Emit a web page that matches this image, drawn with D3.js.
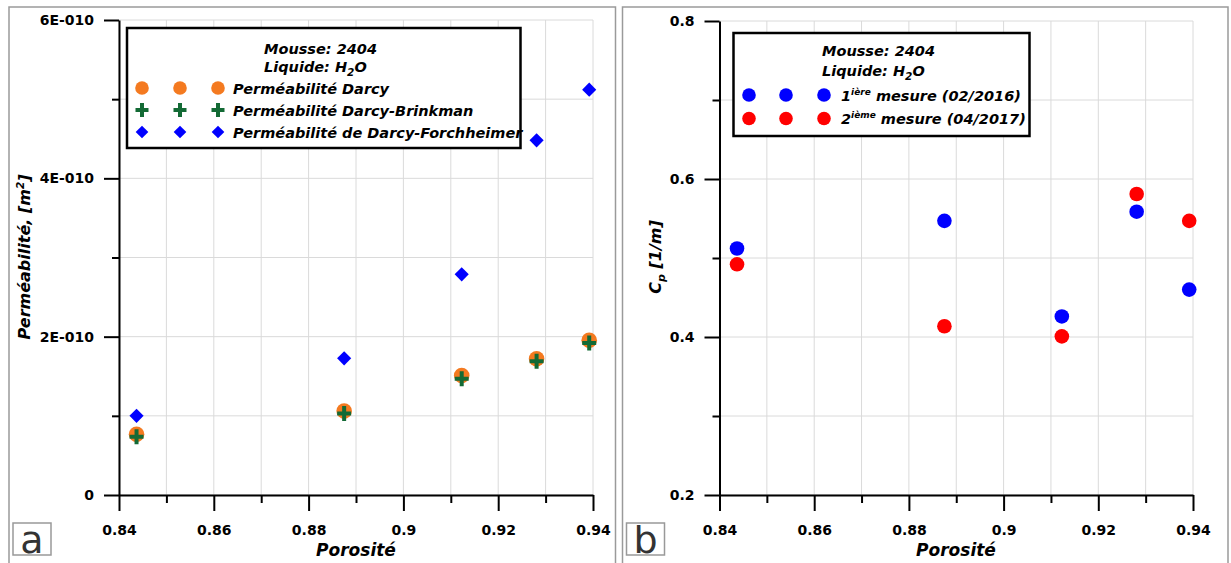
<!DOCTYPE html>
<html><head><meta charset="utf-8">
<script src="https://cdn.jsdelivr.net/npm/d3@7"></script>
<style>body{margin:0;background:#fff} svg{display:block}</style>
</head><body>
<svg id="c" width="1231" height="563"></svg>
<script>
// ---------------- data ----------------
const porosity = [0.8437, 0.8875, 0.9123, 0.9281, 0.9392];
const permDarcy = [0.766e-10, 1.06e-10, 1.51e-10, 1.72e-10, 1.955e-10];
const permBrinkman = [0.736e-10, 1.03e-10, 1.47e-10, 1.69e-10, 1.92e-10];
const permForchheimer = [1.00e-10, 1.726e-10, 2.787e-10, 4.48e-10, 5.12e-10];
const cp2016 = [0.512, 0.547, 0.426, 0.5586, 0.460];
const cp2017 = [0.492, 0.4136, 0.4008, 0.581, 0.547];

const xMajorTicks = [0.84, 0.86, 0.88, 0.90, 0.92, 0.94];
const xMinorTicks = [0.85, 0.87, 0.89, 0.91, 0.93];
const xTickLabels = ["0.84", "0.86", "0.88", "0.9", "0.92", "0.94"];
const yLeftMajor = [0, 2e-10, 4e-10, 6e-10];
const yLeftMinor = [1e-10, 3e-10, 5e-10];
const yLeftLabels = ["0", "2E-010", "4E-010", "6E-010"];
const yRightMajor = [0.2, 0.4, 0.6, 0.8];
const yRightMinor = [0.3, 0.5, 0.7];
const yRightLabels = ["0.2", "0.4", "0.6", "0.8"];

const legendLeftTitle = ["Mousse: 2404", "Liquide: H", "2", "O"];
const legendLeftItems = ["Perméabilité Darcy", "Perméabilité Darcy-Brinkman", "Perméabilité de Darcy-Forchheimer"];
const legendRightItems = [["1", "ière", " mesure (02/2016)"], ["2", "ième", " mesure (04/2017)"]];

// ---------------- styles ----------------
const FONT = '"DejaVu Sans", sans-serif';
const ORANGE = "#f47a20", GREEN = "#136a35", BLUE = "#0000ff", RED = "#ff0000";

const svg = d3.select("#c");

// panel frames
svg.append("rect").attr("x", 9).attr("y", 7).attr("width", 606.5).attr("height", 600)
  .attr("fill", "none").attr("stroke", "#9a9a9a").attr("stroke-width", 1.5);
svg.append("rect").attr("x", 622.5).attr("y", 7).attr("width", 605.5).attr("height", 600)
  .attr("fill", "none").attr("stroke", "#9a9a9a").attr("stroke-width", 1.5);

function axesAndGrid(g, x, y, yMajor, yMinor, yLabels) {
  const [x0, x1] = x.range();
  const [yb, yt] = y.range();
  const grid = g.append("g");
  grid.selectAll("line.v").data(xMajorTicks.concat(xMinorTicks)).join("line").attr("class", "v")
    .attr("x1", d => x(d)).attr("x2", d => x(d)).attr("y1", yb).attr("y2", yt)
    .attr("stroke", "#dadada").attr("stroke-width", 1);
  grid.selectAll("line.h").data(yMajor.concat(yMinor)).join("line").attr("class", "h")
    .attr("x1", x0).attr("x2", x1).attr("y1", d => y(d)).attr("y2", d => y(d))
    .attr("stroke", "#dadada").attr("stroke-width", 1);

  const ax = g.append("g");
  ax.append("g").attr("transform", `translate(0,${yb})`)
    .call(d3.axisBottom(x).tickValues(xMinorTicks).tickSize(8).tickFormat(""))
    .call(s => s.select(".domain").remove());
  ax.append("g").attr("transform", `translate(${x0},0)`)
    .call(d3.axisLeft(y).tickValues(yMinor).tickSize(7).tickFormat(""))
    .call(s => s.select(".domain").remove());
  ax.append("g").attr("transform", `translate(0,${yb})`)
    .call(d3.axisBottom(x).tickValues(xMajorTicks).tickSize(16).tickPadding(14).tickSizeOuter(0)
      .tickFormat((d, i) => xTickLabels[i]));
  ax.append("g").attr("transform", `translate(${x0},0)`)
    .call(d3.axisLeft(y).tickValues(yMajor).tickSize(15).tickPadding(10).tickSizeOuter(0)
      .tickFormat((d, i) => yLabels[i]));
  ax.selectAll(".domain, .tick line").attr("stroke", "#000").attr("stroke-width", 2);
  ax.selectAll(".tick text").attr("font-family", FONT).attr("font-weight", "bold")
    .attr("font-size", 14).attr("fill", "#000");
}

function circle(g, cx, cy, r, color) {
  g.append("circle").attr("cx", cx).attr("cy", cy).attr("r", r).attr("fill", color);
}
function diamond(g, cx, cy, area) {
  g.append("path").attr("d", d3.symbol(d3.symbolSquare, area)())
    .attr("transform", `translate(${cx},${cy}) rotate(45)`).attr("fill", BLUE);
}
function cross(g, cx, cy, h) {
  g.append("path").attr("d", `M${-h},0H${h}M0,${-h - 0.5}V${h + 0.5}`)
    .attr("transform", `translate(${cx},${cy})`).attr("stroke", GREEN).attr("stroke-width", 4).attr("fill", "none");
}

// ================= Panel a =================
const xL = d3.scaleLinear().domain([0.84, 0.94]).range([119, 593]);
const yL = d3.scaleLinear().domain([0, 6e-10]).range([495, 20]);
const gA = svg.append("g");
axesAndGrid(gA, xL, yL, yLeftMajor, yLeftMinor, yLeftLabels);

const mA = gA.append("g");
porosity.forEach((p, i) => diamond(mA, xL(p), yL(permForchheimer[i]), 100));
porosity.forEach((p, i) => circle(mA, xL(p), yL(permDarcy[i]), 7.8, ORANGE));
porosity.forEach((p, i) => cross(mA, xL(p), yL(permBrinkman[i]), 7));

// legend a
const lA = gA.append("g");
lA.append("rect").attr("x", 127).attr("y", 28).attr("width", 393.5).attr("height", 120)
  .attr("fill", "#fff").attr("stroke", "#000").attr("stroke-width", 2.5);
const ltxt = (g, x, y) => g.append("text").attr("x", x).attr("y", y).attr("font-family", FONT)
  .attr("font-weight", "bold").attr("font-style", "italic").attr("font-size", 14.5).attr("fill", "#000");
ltxt(lA, 264, 53.5).text(legendLeftTitle[0]);
const t2 = ltxt(lA, 264, 71.5);
t2.append("tspan").text(legendLeftTitle[1]);
t2.append("tspan").attr("dy", 4).attr("font-size", 10.5).text(legendLeftTitle[2]);
t2.append("tspan").attr("dy", -4).text(legendLeftTitle[3]);
const symX = [142, 180, 218];
const rowY = [88, 110, 132];
symX.forEach(sx => circle(lA, sx, rowY[0], 6.8, ORANGE));
symX.forEach(sx => cross(lA, sx, rowY[1], 6.5));
symX.forEach(sx => diamond(lA, sx, rowY[2], 80));
legendLeftItems.forEach((t, i) => ltxt(lA, 233, rowY[i] + 5.5).text(t));

// axis titles a
gA.append("text").attr("x", 356).attr("y", 556).attr("text-anchor", "middle")
  .attr("font-family", FONT).attr("font-weight", "bold").attr("font-style", "italic").attr("font-size", 17)
  .text("Porosité");
const yTa = gA.append("text").attr("transform", "translate(29.5,257) rotate(-90)").attr("text-anchor", "middle")
  .attr("font-family", FONT).attr("font-weight", "bold").attr("font-style", "italic").attr("font-size", 16);
yTa.append("tspan").text("Perméabilité, [m");
yTa.append("tspan").attr("dy", -6).attr("font-size", 10.5).text("2");
yTa.append("tspan").attr("dy", 6).text("]");

// panel letter a
gA.append("rect").attr("x", 13).attr("y", 523).attr("width", 38).attr("height", 32)
  .attr("fill", "#fff").attr("stroke", "#999").attr("stroke-width", 1.5);
gA.append("text").attr("x", 32).attr("y", 552.5).attr("text-anchor", "middle").attr("font-family", FONT)
  .attr("font-size", 38).attr("fill", "#333").text("a");

// ================= Panel b =================
const xR = d3.scaleLinear().domain([0.84, 0.94]).range([719.5, 1193]);
const yR = d3.scaleLinear().domain([0.2, 0.8]).range([495, 21]);
const gB = svg.append("g");
axesAndGrid(gB, xR, yR, yRightMajor, yRightMinor, yRightLabels);

const mB = gB.append("g");
porosity.forEach((p, i) => circle(mB, xR(p), yR(cp2016[i]), 7.3, BLUE));
porosity.forEach((p, i) => circle(mB, xR(p), yR(cp2017[i]), 7.3, RED));

// legend b
const lB = gB.append("g");
lB.append("rect").attr("x", 733.5).attr("y", 33).attr("width", 296).attr("height", 103)
  .attr("fill", "#fff").attr("stroke", "#000").attr("stroke-width", 2.5);
ltxt(lB, 822, 56).text(legendLeftTitle[0]);
const t3 = ltxt(lB, 822, 76);
t3.append("tspan").text(legendLeftTitle[1]);
t3.append("tspan").attr("dy", 4).attr("font-size", 10.5).text(legendLeftTitle[2]);
t3.append("tspan").attr("dy", -4).text(legendLeftTitle[3]);
const symXR = [749, 786, 824];
const rowYR = [95, 118.5];
const colR = [BLUE, RED];
rowYR.forEach((ry, i) => symXR.forEach(sx => circle(lB, sx, ry, 6.8, colR[i])));
legendRightItems.forEach((it, i) => {
  const t = ltxt(lB, 841, rowYR[i] + 5.5);
  t.append("tspan").text(it[0]);
  t.append("tspan").attr("dy", -6).attr("font-size", 9).text(it[1]);
  t.append("tspan").attr("dy", 6).text(it[2]);
});

// axis titles b
gB.append("text").attr("x", 956).attr("y", 556).attr("text-anchor", "middle")
  .attr("font-family", FONT).attr("font-weight", "bold").attr("font-style", "italic").attr("font-size", 17)
  .text("Porosité");
const yTb = gB.append("text").attr("transform", "translate(661,257) rotate(-90)").attr("text-anchor", "middle")
  .attr("font-family", FONT).attr("font-weight", "bold").attr("font-style", "italic").attr("font-size", 16);
yTb.append("tspan").text("C");
yTb.append("tspan").attr("dy", 4).attr("font-size", 11).text("p");
yTb.append("tspan").attr("dy", -4).text(" [1/m]");

// panel letter b
gB.append("rect").attr("x", 626.5).attr("y", 523).attr("width", 38).attr("height", 32)
  .attr("fill", "#fff").attr("stroke", "#999").attr("stroke-width", 1.5);
gB.append("text").attr("x", 645.5).attr("y", 552.5).attr("text-anchor", "middle").attr("font-family", FONT)
  .attr("font-size", 38).attr("fill", "#333").text("b");
</script>
</body></html>
